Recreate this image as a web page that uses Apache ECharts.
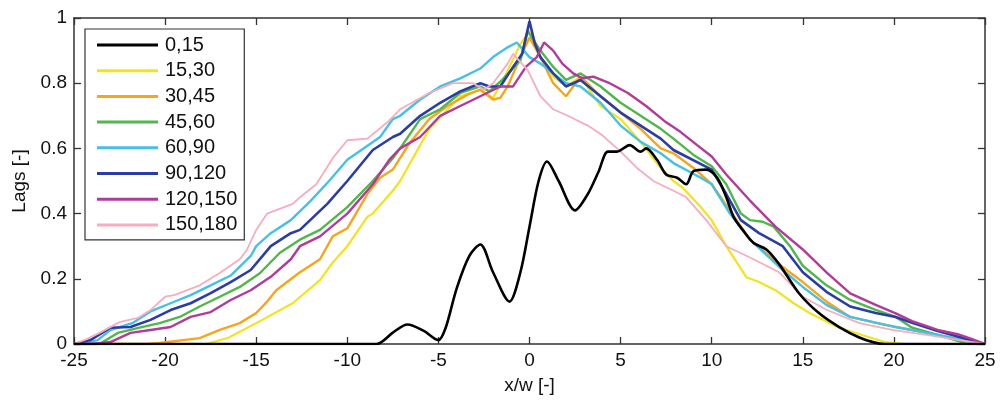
<!DOCTYPE html>
<html>
<head>
<meta charset="utf-8">
<script src="https://cdn.jsdelivr.net/npm/echarts@6/dist/echarts.min.js"></script>
<style>
html,body{margin:0;padding:0;background:#fff;}
#c{width:1003px;height:401px;}
</style>
</head>
<body>
<div id="c"></div>
<script>
// ---- data (x/w, Lags) ----
const seriesNames = ['0,15','15,30','30,45','45,60','60,90','90,120','120,150','150,180'];
const xTicks = [-25,-20,-15,-10,-5,0,5,10,15,20,25];
const yTicks = [0,0.2,0.4,0.6,0.8,1];

const s0_15 = [[-25,0],[-8.4,0],[-7.5,0.035],[-6.7,0.06],[-5.8,0.04],[-5.0,0.012],[-4.6,0.05],[-4,0.17],[-3.3,0.27],[-2.7,0.305],[-2,0.22],[-1.1,0.13],[-0.5,0.22],[0,0.36],[0.5,0.5],[0.96,0.56],[1.6,0.5],[2.5,0.41],[3.2,0.46],[3.8,0.53],[4.3,0.59],[4.8,0.59],[5.5,0.61],[6.1,0.59],[6.4,0.6],[7.0,0.565],[7.5,0.52],[8.1,0.51],[8.6,0.49],[9.0,0.53],[9.7,0.535],[10.3,0.51],[10.8,0.45],[11.2,0.39],[11.7,0.35],[12.3,0.31],[13,0.29],[13.7,0.245],[14.8,0.155],[15.9,0.094],[17,0.052],[18.1,0.02],[18.9,0.005],[19.5,0],[25,0]];
const s15_30 = [[-25,0],[-17.7,0],[-16.5,0.02],[-15,0.064],[-13,0.125],[-11.5,0.196],[-10.8,0.25],[-10,0.3],[-8.9,0.39],[-8.6,0.4],[-7.5,0.47],[-7.1,0.5],[-5.5,0.66],[-3.8,0.76],[-2.7,0.78],[-2,0.755],[-1.4,0.815],[-0.5,0.92],[0,0.96],[0.6,0.88],[1.3,0.82],[2,0.79],[2.8,0.82],[3.9,0.73],[5,0.69],[6.1,0.62],[7.2,0.54],[7.9,0.5],[8.4,0.48],[9.4,0.42],[10,0.38],[10.8,0.3],[11.9,0.205],[12.6,0.19],[13.5,0.165],[14.5,0.125],[15.4,0.094],[16.9,0.052],[18.3,0.027],[19.5,0.006],[20.5,0],[25,0]];
const s30_45 = [[-25,0],[-21,0],[-20.3,0.003],[-18.1,0.018],[-17,0.043],[-15.9,0.064],[-15,0.095],[-14.4,0.13],[-13.9,0.165],[-12.6,0.22],[-11.5,0.26],[-10.8,0.33],[-10,0.355],[-8.9,0.46],[-8.2,0.51],[-7.5,0.535],[-6.6,0.615],[-5.5,0.69],[-4.5,0.73],[-3.4,0.765],[-2.7,0.78],[-2,0.75],[-1.6,0.755],[-1.2,0.79],[-0.5,0.88],[0,0.94],[0.6,0.88],[1.3,0.8],[2,0.76],[2.8,0.82],[3.9,0.76],[5,0.71],[6.1,0.66],[7.2,0.6],[7.9,0.585],[9,0.54],[10,0.49],[11,0.41],[12.1,0.32],[13.9,0.236],[15,0.19],[16.3,0.13],[17.6,0.083],[19,0.065],[20.1,0.052],[22.4,0.028],[24,0.01],[25,0]];
const s45_60 = [[-25,0],[-23.6,0],[-22.6,0.034],[-21.4,0.05],[-20.3,0.064],[-19.2,0.083],[-18.1,0.115],[-17,0.145],[-15.9,0.175],[-14.8,0.217],[-13.7,0.28],[-12.6,0.32],[-11.5,0.35],[-10,0.42],[-8.6,0.5],[-7.5,0.57],[-7.1,0.6],[-6,0.69],[-4.9,0.72],[-3.8,0.77],[-2.7,0.79],[-2.2,0.775],[-1.5,0.81],[-0.5,0.87],[-0.1,0.96],[0.6,0.9],[1.3,0.85],[2,0.81],[2.8,0.83],[3.9,0.79],[5,0.74],[6.1,0.7],[7.2,0.66],[7.9,0.63],[9,0.58],[10,0.545],[10.8,0.49],[11.6,0.4],[12.1,0.38],[12.8,0.375],[13.4,0.36],[14.3,0.3],[15,0.24],[16.3,0.18],[17.6,0.135],[19,0.105],[20.1,0.083],[21,0.05],[22.4,0.028],[23.5,0.01],[24,0],[25,0]];
const s60_90 = [[-25,0],[-24.2,0.005],[-23.7,0.012],[-23,0.043],[-21.8,0.064],[-20.8,0.1],[-19.7,0.125],[-18.6,0.15],[-17.5,0.18],[-16.4,0.21],[-15.3,0.27],[-15,0.3],[-14.2,0.34],[-13.1,0.38],[-12,0.44],[-11,0.5],[-10,0.565],[-8.2,0.635],[-7.5,0.69],[-7.1,0.7],[-6,0.75],[-4.9,0.79],[-3.8,0.815],[-2.7,0.845],[-2,0.88],[-1.2,0.91],[-0.7,0.925],[0,0.88],[0.6,0.86],[1.3,0.83],[2,0.8],[2.8,0.79],[3.9,0.74],[5,0.67],[6.1,0.62],[7.2,0.585],[7.9,0.555],[9.4,0.51],[10,0.49],[11,0.4],[12.1,0.32],[13.9,0.227],[15,0.175],[16.3,0.12],[17.6,0.083],[20.1,0.052],[22.4,0.028],[24,0.01],[25,0]];
const s90_120 = [[-25,0],[-24.1,0.012],[-23,0.05],[-21.9,0.052],[-20.8,0.074],[-19.7,0.104],[-18.6,0.125],[-17.5,0.156],[-16.4,0.19],[-15.3,0.227],[-14.2,0.3],[-13.1,0.34],[-12.6,0.35],[-11.1,0.43],[-10,0.5],[-8.6,0.595],[-7.5,0.635],[-7.1,0.645],[-6,0.7],[-4.9,0.74],[-3.8,0.775],[-2.7,0.8],[-2.2,0.79],[-1.6,0.79],[-0.9,0.85],[-0.4,0.89],[0,0.99],[0.3,0.92],[0.6,0.88],[1.3,0.83],[2,0.79],[2.8,0.81],[3.9,0.76],[5,0.71],[6.1,0.67],[7.2,0.63],[7.9,0.595],[10,0.535],[10.8,0.46],[11.6,0.38],[12.6,0.34],[13.9,0.3],[15,0.22],[16.3,0.16],[17.6,0.115],[19,0.095],[20.1,0.083],[21,0.065],[22.4,0.04],[24,0.015],[25,0]];
const s120_150 = [[-25,0],[-24,0],[-23,0.006],[-21.9,0.034],[-20.8,0.043],[-19.7,0.052],[-18.6,0.083],[-17.5,0.098],[-16.4,0.135],[-15.3,0.165],[-14.2,0.206],[-13.1,0.26],[-12.6,0.3],[-11.5,0.33],[-10,0.4],[-8.6,0.49],[-7.7,0.565],[-7.1,0.6],[-6,0.635],[-4.9,0.7],[-3.8,0.73],[-2.7,0.76],[-1.6,0.79],[-0.9,0.79],[-0.2,0.85],[0.4,0.88],[0.8,0.925],[1.3,0.9],[1.8,0.86],[2.4,0.83],[2.9,0.815],[3.5,0.82],[4.4,0.8],[5.4,0.77],[6.4,0.73],[7.5,0.68],[8.3,0.65],[9.2,0.61],[10,0.575],[10.8,0.52],[12.1,0.44],[13.5,0.36],[15,0.29],[16.3,0.22],[17.6,0.155],[19,0.12],[20.1,0.094],[21,0.07],[22.4,0.043],[23.5,0.03],[24.3,0.015],[25,0]];
const s150_180 = [[-25,0],[-24.3,0.015],[-23.6,0.034],[-22.5,0.067],[-21.5,0.08],[-20.8,0.104],[-20,0.145],[-19.5,0.15],[-18.1,0.18],[-17,0.218],[-15.9,0.26],[-15.5,0.29],[-15,0.35],[-14.4,0.4],[-13,0.43],[-12.6,0.45],[-11.7,0.49],[-10.8,0.57],[-10,0.625],[-8.9,0.63],[-7.8,0.68],[-7.1,0.72],[-5.5,0.77],[-4.2,0.8],[-3.1,0.8],[-2.5,0.78],[-2,0.8],[-1.2,0.86],[-0.9,0.89],[-0.1,0.84],[0.6,0.76],[1.3,0.72],[2.1,0.7],[3.2,0.67],[4,0.64],[5,0.59],[5.9,0.54],[6.8,0.5],[7.9,0.47],[8.6,0.45],[9.7,0.38],[10.8,0.3],[12.3,0.26],[13.7,0.22],[15,0.145],[16.3,0.105],[18.1,0.064],[19.9,0.043],[21.8,0.028],[23.6,0.012],[25,0]];

const seriesData = [s0_15, s15_30, s30_45, s45_60, s60_90, s90_120, s120_150, s150_180];
const colors = ['#000000','#f2e41c','#f9a51b','#4fb848','#45c1e6','#2a3ca8','#b23a9c','#f6adbf'];
const widths = [2.6,2.2,2.4,2.4,2.4,2.6,2.4,1.8];

const chart = echarts.init(document.getElementById('c'), null, {renderer:'canvas'});
const font = 'Liberation Sans, Arial, sans-serif';
const axisColor = '#333';

const series = seriesNames.map((n,i)=>({
  name:n, type:'line', data:seriesData[i], showSymbol:false, symbol:'none',
  smooth: i===0 ? 0.3 : false,
  lineStyle:{color:colors[i], width:widths[i]},
  itemStyle:{color:colors[i]},
  z: i===0 ? 10 : 2+i,
  animation:false
}));

chart.setOption({
  animation:false,
  backgroundColor:'#fff',
  grid:{left:74, right:18, top:18, bottom:57, containLabel:false},
  legend:{
    orient:'vertical', left:85, top:29,
    data:seriesNames,
    icon:'rect', itemWidth:61, itemHeight:3, itemGap:5.7,
    backgroundColor:'#fff', borderColor:'#333', borderWidth:1.2,
    padding:[6,7,5,12],
    textStyle:{fontFamily:font, fontSize:20, color:'#111', lineHeight:20, padding:[0,0,0,2]}
  },
  xAxis:[{
    type:'value', min:-25, max:25, interval:5, position:'bottom',
    axisLine:{show:true, onZero:false, lineStyle:{color:axisColor, width:1.5}},
    axisTick:{show:true, inside:true, length:7, lineStyle:{color:axisColor, width:1.3}},
    axisLabel:{fontFamily:font, fontSize:19, color:'#111', margin:7},
    splitLine:{show:false},
    name:'x/w [-]', nameLocation:'middle', nameGap:32,
    nameTextStyle:{fontFamily:font, fontSize:19, color:'#111'}
  },{
    type:'value', min:-25, max:25, interval:5, position:'top',
    axisLine:{show:true, onZero:false, lineStyle:{color:axisColor, width:1.5}},
    axisTick:{show:true, inside:true, length:7, lineStyle:{color:axisColor, width:1.3}},
    axisLabel:{show:false}, splitLine:{show:false}
  }],
  yAxis:[{
    type:'value', min:0, max:1, interval:0.2, position:'left',
    axisLine:{show:true, onZero:false, lineStyle:{color:axisColor, width:1.5}},
    axisTick:{show:true, inside:true, length:7, lineStyle:{color:axisColor, width:1.3}},
    axisLabel:{fontFamily:font, fontSize:19, color:'#111', margin:7,
      formatter:v=>{const t=yTicks.find(k=>Math.abs(k-v)<1e-9); return t===undefined?'':String(t);}},
    splitLine:{show:false},
    name:'Lags [-]', nameLocation:'middle', nameGap:44,
    nameTextStyle:{fontFamily:font, fontSize:19, color:'#111'}
  },{
    type:'value', min:0, max:1, interval:0.2, position:'right',
    axisLine:{show:true, onZero:false, lineStyle:{color:axisColor, width:1.5}},
    axisTick:{show:true, inside:true, length:7, lineStyle:{color:axisColor, width:1.3}},
    axisLabel:{show:false}, splitLine:{show:false}
  }],
  series: series
});
</script>
</body>
</html>
